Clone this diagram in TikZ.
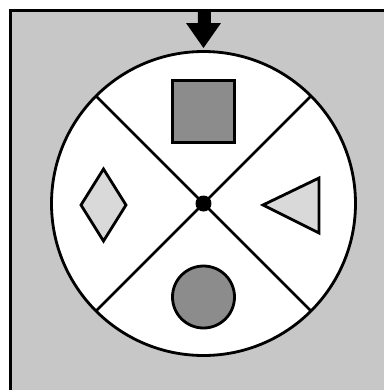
\documentclass[tikz,border=0pt]{standalone}
\usepackage{tikz}

\begin{document}
\begin{tikzpicture}[x=0.02cm, y=-0.02cm, line width=1.6pt, line join=miter,
      outline/.style={draw=black},
      darkpiece/.style={outline, fill=black!45},
      lightpiece/.style={outline, fill=black!15}]
  \useasboundingbox (0,0) rectangle (384,390);
  \clip (0,0) rectangle (384,390);
  % panel
  \draw [fill=black!22] (10.5,10.5) rectangle (420,420);
  % wheel
  \coordinate (hub) at (203.5,203.5);
  \draw [fill=white] (hub) circle [radius=152];
  \foreach \a in {45,135,225,315}
    \draw (hub) -- ++(\a:152);
  \fill (hub) circle [radius=8];
  % pieces
  \draw [darkpiece] (172.5,80.5) rectangle (234.5,142.5);
  \draw [darkpiece] (203.5,297) circle [radius=31];
  \draw [lightpiece] (263,205) -- (319,178) -- (319,233) -- cycle;
  \draw [lightpiece] (103.5,169) -- (126,205) -- (103.5,241) -- (81,205) -- cycle;
  % pointer
  \fill (198,10) -- (211,10) -- (211,23) -- (221,23) -- (203.5,48)
    -- (186,23) -- (198,23) -- cycle;
\end{tikzpicture}
\end{document}
